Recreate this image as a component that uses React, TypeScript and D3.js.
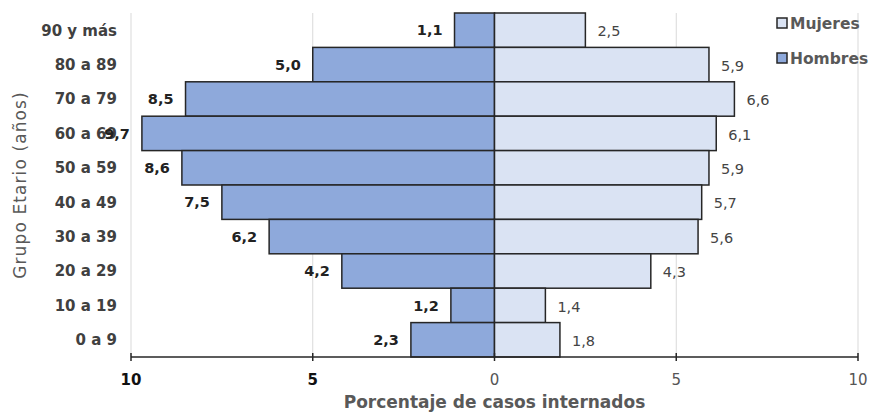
import React, { useEffect } from "react";
import * as d3 from "d3";

const categories = ["90 y más", "80 a 89", "70 a 79", "60 a 69", "50 a 59", "40 a 49", "30 a 39", "20 a 29", "10 a 19", "0 a 9"];
const hombres = [1.1, 5.0, 8.5, 9.7, 8.6, 7.5, 6.2, 4.2, 1.2, 2.3];
const mujeres = [2.5, 5.9, 6.6, 6.1, 5.9, 5.7, 5.6, 4.3, 1.4, 1.8];
const ticks = [-10, -5, 0, 5, 10];
const legendItems = ["Mujeres", "Hombres"];

const W = 874;
const H = 412;
const FONT = "'DejaVu Sans', 'Open Sans', sans-serif";
const C_MALE = "#8EA9DB";
const C_FEMALE = "#DAE3F3";
const C_STROKE = "#262626";

export default function App() {
  useEffect(() => {
    document.body.style.margin = "0";
  }, []);

  const x = d3.scaleLinear().domain([-10, 10]).range([131, 858]);
  const y = d3.scaleBand<string>().domain(categories).range([13, 357]).padding(0);
  const fmt = (v: number) => v.toFixed(1).replace(".", ",");
  const bw = y.bandwidth();

  return (
    <svg width={W} height={H} style={{ display: "block", fontFamily: FONT }}>
      {/* grid */}
      {ticks.filter((t) => t !== 0).map((t) => (
        <line key={"g" + t} x1={x(t)} x2={x(t)} y1={13} y2={357} stroke="#d9d9d9" strokeWidth={1} />
      ))}
      {/* bars */}
      {categories.map((c, i) => (
        <g key={c}>
          <rect x={x(-hombres[i])} y={y(c)!} width={x(0) - x(-hombres[i])} height={bw} fill={C_MALE} stroke={C_STROKE} strokeWidth={1.5} />
          <rect x={x(0)} y={y(c)!} width={x(mujeres[i]) - x(0)} height={bw} fill={C_FEMALE} stroke={C_STROKE} strokeWidth={1.5} />
        </g>
      ))}
      {/* category labels */}
      {categories.map((c) => (
        <text key={"c" + c} x={117} y={y(c)! + bw / 2} dy="0.36em" textAnchor="end" fontSize={15} fontWeight={700} fill="#404040">
          {c}
        </text>
      ))}
      {/* value labels */}
      {categories.map((c, i) => (
        <g key={"v" + c}>
          <text x={x(-hombres[i]) - 12} y={y(c)! + bw / 2} dy="0.36em" textAnchor="end" fontSize={14.5} fontWeight={700} fill="#222">
            {fmt(hombres[i])}
          </text>
          <text x={x(mujeres[i]) + 12} y={y(c)! + bw / 2 + 1} dy="0.36em" textAnchor="start" fontSize={14.5} fontWeight={400} fill="#444">
            {fmt(mujeres[i])}
          </text>
        </g>
      ))}
      {/* axis */}
      <line x1={x(-10)} x2={x(10)} y1={357} y2={357} stroke={C_STROKE} strokeWidth={1.5} />
      {ticks.map((t) => (
        <g key={"t" + t}>
          <line x1={x(t)} x2={x(t)} y1={353} y2={361} stroke={C_STROKE} strokeWidth={1.5} />
          <text x={x(t)} y={380} dy="0.36em" textAnchor="middle" fontSize={15} fontWeight={t < 0 ? 700 : 400} fill={t < 0 ? "#111" : "#555"}>
            {Math.abs(t)}
          </text>
        </g>
      ))}
      {/* axis titles */}
      <text x={x(0)} y={402} dy="0.36em" textAnchor="middle" fontSize={17} fontWeight={700} fill="#595959">
        Porcentaje de casos internados
      </text>
      <text transform={`translate(20,${185}) rotate(-90)`} textAnchor="middle" dy="0.36em" fontSize={17} letterSpacing={1.1} fontWeight={400} fill="#595959">
        Grupo Etario (años)
      </text>
      {/* legend */}
      {legendItems.map((l, i) => (
        <g key={l} transform={`translate(777,${23 + i * 35})`}>
          <rect x={0} y={-5} width={10} height={10} fill={i === 0 ? C_FEMALE : C_MALE} stroke={C_STROKE} strokeWidth={1.5} />
          <text x={13} y={0} dy="0.36em" fontSize={15.5} fontWeight={700} fill="#595959">
            {l}
          </text>
        </g>
      ))}
    </svg>
  );
}
